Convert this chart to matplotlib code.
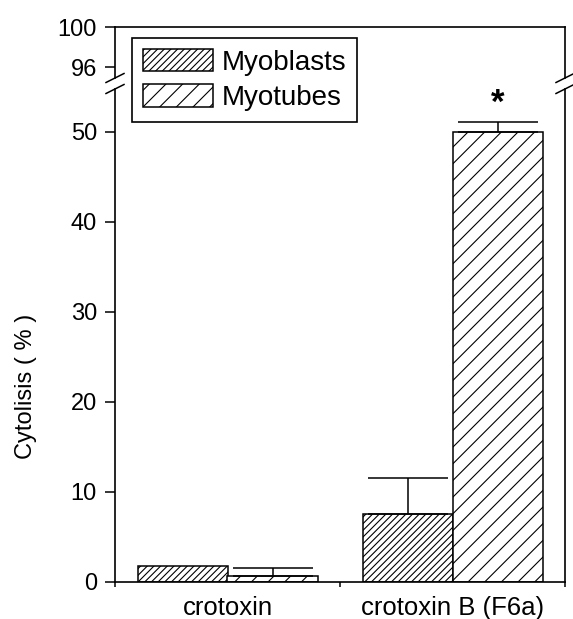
import numpy as np
import matplotlib
matplotlib.use("Agg")
import matplotlib.pyplot as plt
from matplotlib.patches import Patch
from matplotlib.lines import Line2D

categories = ['crotoxin', 'crotoxin B (F6a)']
series = ['Myoblasts', 'Myotubes']
myoblasts = [1.8, 7.6]
myoblasts_err = [0.0, 4.0]
myotubes = [0.7, 50.0]
myotubes_err = [0.9, 1.1]
hatches = ['/////', '//']
upper_ticks = [96, 100]
lower_ticks = [0, 10, 20, 30, 40, 50]

plt.rcParams['font.family'] = ['Liberation Sans', 'DejaVu Sans']
plt.rcParams['hatch.linewidth'] = 0.8
plt.rcParams['axes.linewidth'] = 1.2

W, H = 573, 619
fig = plt.figure(figsize=(W / 100, H / 100), dpi=100)

def fx(px):
    return px / W

def fy(py):
    return 1 - py / H

left, right = 115, 565
up_top, up_bot = 27, 78
lo_top, lo_bot = 89, 582

ax_up = fig.add_axes([fx(left), fy(up_bot), fx(right - left), fy(up_top) - fy(up_bot)])
ax_lo = fig.add_axes([fx(left), fy(lo_bot), fx(right - left), fy(lo_top) - fy(lo_bot)])

centers = np.arange(len(categories)) + 0.5
width = 0.4
data = [(myoblasts, myoblasts_err), (myotubes, myotubes_err)]
offsets = [-width / 2, width / 2]

for ax in (ax_up, ax_lo):
    for (vals, errs), off, h in zip(data, offsets, hatches):
        ax.bar(centers + off, vals, width=width, facecolor='white', edgecolor='black',
               hatch=h, linewidth=1.1, zorder=2)
        for xc, v, e in zip(centers + off, vals, errs):
            if e > 0:
                ax.errorbar([xc], [v], yerr=[[0], [e]], fmt='none', ecolor='black',
                            elinewidth=1.1, capsize=28.8, capthick=1.1, zorder=3)
    ax.set_xlim(0, 2)

ax_up.set_ylim(94.9, 100)
ax_lo.set_ylim(0, (lo_bot - lo_top) / 9.0)

ax_up.spines['bottom'].set_visible(False)
ax_lo.spines['top'].set_visible(False)

ax_up.set_yticks(upper_ticks)
ax_lo.set_yticks(lower_ticks)
for ax in (ax_up, ax_lo):
    ax.tick_params(axis='y', direction='out', length=7, width=1.1, labelsize=17, pad=6)
    ax.yaxis.set_tick_params(right=False)

ax_up.tick_params(axis='x', which='both', bottom=False, top=False, labelbottom=False)

ax_lo.set_xticks([0, 1, 2])
ax_lo.set_xticklabels([])
ax_lo.set_xticks(centers, minor=True)
ax_lo.set_xticklabels(categories, minor=True)
ax_lo.tick_params(axis='x', which='major', direction='out', length=3.6, width=1.1)
ax_lo.tick_params(axis='x', which='minor', length=0, labelsize=18.5, pad=10)

# asterisk above crotoxin B myotubes
ax_lo.text(centers[1] + width / 2, myotubes[1] + myotubes_err[1] + 0.3, '*',
           ha='center', va='bottom', fontsize=25, fontweight='bold')

# break marks
for xpx in (left, right):
    for ypx in (up_bot, lo_top):
        fig.add_artist(Line2D([fx(xpx - 9), fx(xpx + 9)], [fy(ypx + 4.5), fy(ypx - 4.5)],
                              color='black', linewidth=1.1, transform=fig.transFigure))

handles = [Patch(facecolor='white', edgecolor='black', hatch=h, linewidth=1.1) for h in hatches]
leg = fig.legend(handles, series, loc='upper left',
                 bbox_to_anchor=(fx(132), fy(38)), bbox_transform=fig.transFigure,
                 borderaxespad=0, fancybox=False, edgecolor='black', framealpha=1,
                 fontsize=20, handlelength=2.5, handleheight=0.86, handletextpad=0.32,
                 borderpad=0.4, labelspacing=0.3)
leg.get_frame().set_linewidth(1.2)
leg.set_zorder(10)

fig.text(fx(26), fy(386), 'Cytolisis ( % )', rotation=90, ha='center', va='center', fontsize=17)

fig.savefig('out.png', dpi=100)
